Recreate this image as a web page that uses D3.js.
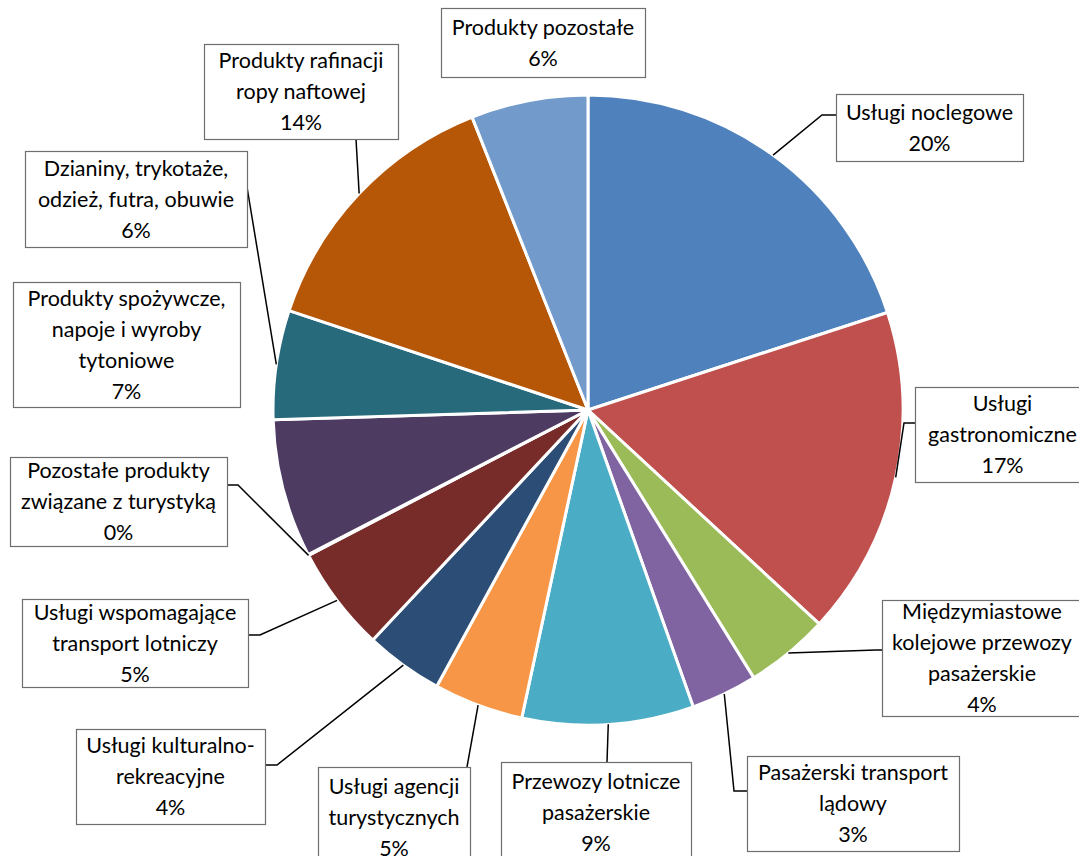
<!DOCTYPE html>
<html>
<head>
<meta charset="utf-8">
<script src="https://cdn.jsdelivr.net/npm/d3@7"></script>
<style>
  body { margin: 0; background: #fff; }
  text { font-family: Lato, "Open Sans", sans-serif; font-size: 21.5px; fill: #000; }
</style>
</head>
<body>
<script>
// slice names (clockwise from 12 o'clock), as printed in the label boxes
var names = [
  ["Usługi noclegowe"],
  ["Usługi", "gastronomiczne"],
  ["Międzymiastowe", "kolejowe przewozy", "pasażerskie"],
  ["Pasażerski transport", "lądowy"],
  ["Przewozy lotnicze", "pasażerskie"],
  ["Usługi agencji", "turystycznych"],
  ["Usługi kulturalno-", "rekreacyjne"],
  ["Usługi wspomagające", "transport lotniczy"],
  ["Pozostałe produkty", "związane z turystyką"],
  ["Produkty spożywcze,", "napoje i wyroby", "tytoniowe"],
  ["Dzianiny, trykotaże,", "odzież, futra, obuwie"],
  ["Produkty rafinacji", "ropy naftowej"],
  ["Produkty pozostałe"]
];
// shares in %
var shares = [20.0, 16.9, 4.3, 3.4, 8.8, 4.6, 4.0, 5.4, 0.05, 7.1, 5.6, 13.9, 6.0];
var colors = ["#4F81BD", "#C0504D", "#9BBB59", "#8064A2", "#4BACC6", "#F79646",
              "#2C4D75", "#772C2A", "#5F7530", "#4D3B62", "#276A7C", "#B65708", "#729ACA"];

// label box placement: [x, y, w, h], then leader line bend points (null = no line)
var boxes = [
  [836, 94, 187, 67],  [915, 387, 175, 95], [882, 600, 200, 116], [747, 756, 212, 95],
  [501, 762, 190, 100], [318, 767, 152, 100], [76, 729, 189, 95], [22, 599, 226, 88],
  [10, 457, 217, 89], [13, 282, 227, 125], [25, 151, 222, 96], [204, 44, 194, 95],
  [441, 8, 204, 69]
];
var leaders = [
  [[822, 115], [836, 115]], [[904, 423], [915, 423]], [[876, 650], [882, 650]],
  [[734, 791], [747, 791]], [[607, 762]], [[467, 767]], [[277, 765], [265, 765]],
  [[260, 635], [248, 635]], [[238, 485], [227, 485]], null, [[247, 187]],
  [[356, 139]], null
];

var width = 1079, height = 856;
var cx = 588, cy = 410, radius = 315;

var svg = d3.select("body").append("svg")
  .attr("width", width)
  .attr("height", height);

var total = d3.sum(shares);
var pie = d3.pie().sort(null).value(function(d) { return d; });
var arc = d3.arc().innerRadius(0).outerRadius(radius);
var arcs = pie(shares);

var g = svg.append("g").attr("transform", "translate(" + cx + "," + cy + ")");
g.selectAll("path")
  .data(arcs)
  .enter().append("path")
    .attr("d", arc)
    .attr("fill", function(d, i) { return colors[i]; })
    .attr("stroke", "#fff")
    .attr("stroke-width", 3)
    .attr("stroke-linejoin", "round");

// leader lines start on the rim at the slice's mid angle
var line = d3.line();
arcs.forEach(function(d, i) {
  if (!leaders[i]) return;
  var a = (d.startAngle + d.endAngle) / 2;
  if (shares[i] < 0.5) a = d.startAngle;
  var start = [cx + radius * Math.sin(a), cy - radius * Math.cos(a)];
  svg.append("path")
    .attr("d", line([start].concat(leaders[i])))
    .attr("fill", "none")
    .attr("stroke", "#000")
    .attr("stroke-width", 1.5);
});

var fmt = function(v) { return Math.round(v / total * 100) + "%"; };
var lh = 31;

boxes.forEach(function(b, i) {
  svg.append("rect")
    .attr("x", b[0] + 0.5).attr("y", b[1] + 0.5)
    .attr("width", b[2]).attr("height", b[3])
    .attr("fill", "#fff")
    .attr("stroke", "#6e6e6e")
    .attr("stroke-width", 1.2);
  var lines = names[i].concat([fmt(shares[i])]);
  var y0 = b[1] + b[3] / 2 - (lines.length - 1) * lh / 2;
  var t = svg.append("text")
    .attr("text-anchor", "middle");
  lines.forEach(function(s, k) {
    t.append("tspan")
      .attr("x", b[0] + b[2] / 2)
      .attr("y", y0 + k * lh)
      .attr("dy", "0.35em")
      .text(s);
  });
});
</script>
</body>
</html>
